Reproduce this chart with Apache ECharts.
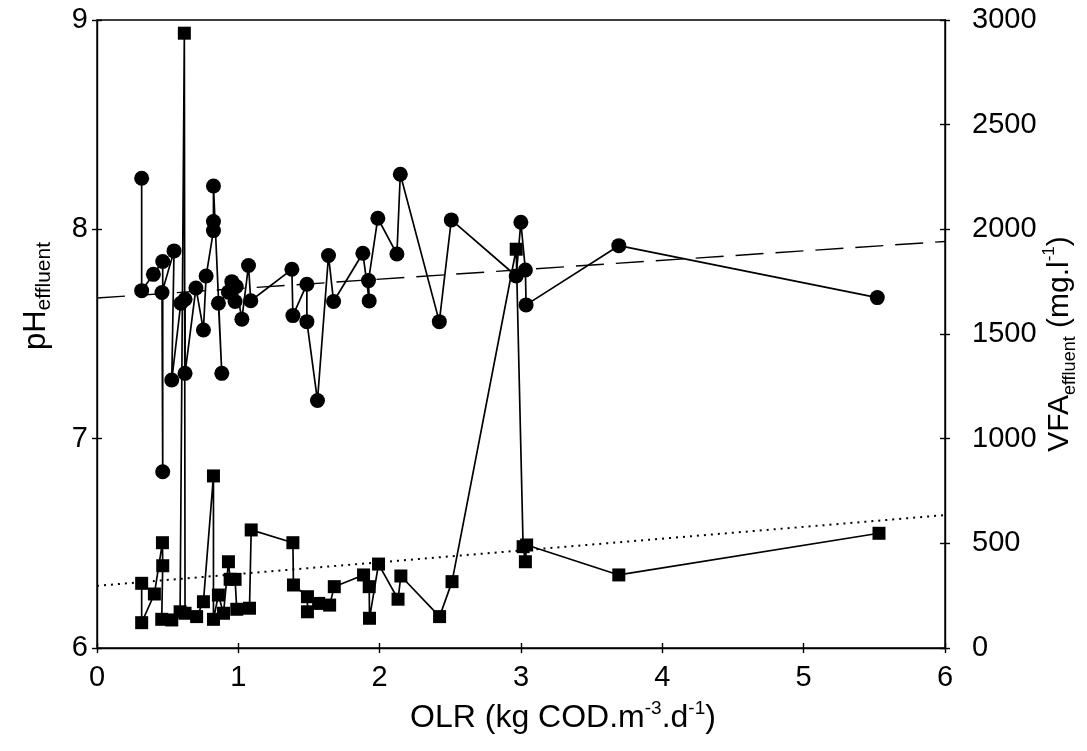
<!DOCTYPE html>
<html>
<head>
<meta charset="utf-8">
<script src="https://cdn.jsdelivr.net/npm/echarts@6/dist/echarts.min.js"></script>
<style>
  html, body { margin: 0; padding: 0; background: #ffffff; }
  #chart { width: 1087px; height: 751px; }
</style>
</head>
<body>
<div id="chart"></div>
<script>
// Effluent pH against organic loading rate (in sampling order)
const olrPh = [0.316, 0.316, 0.399, 0.465, 0.465, 0.46, 0.545, 0.529, 0.593, 0.623, 0.623, 0.70, 0.753, 0.772,
  0.824, 0.824, 0.824, 0.883, 0.859, 0.93, 0.954, 0.977, 0.985, 1.025, 1.072, 1.088,
  1.379, 1.386, 1.485, 1.485, 1.56, 1.638, 1.674, 1.881, 1.926, 1.921, 1.987, 2.122, 2.146,
  2.422, 2.507, 2.966, 2.999, 3.031, 3.036, 3.692, 5.521];
const phValues = [8.244, 7.707, 7.785, 7.846, 6.842, 7.698, 7.897, 7.28, 7.647, 7.666, 7.312, 7.72, 7.519, 7.777,
  7.994, 8.037, 8.207, 7.312, 7.647, 7.70, 7.75, 7.655, 7.727, 7.571, 7.827, 7.659,
  7.809, 7.588, 7.738, 7.559, 7.182, 7.875, 7.655, 7.886, 7.658, 7.755, 8.053, 7.882, 8.263,
  7.559, 8.045, 7.777, 8.034, 7.806, 7.639, 7.922, 7.674];

// Effluent VFA against organic loading rate (in sampling order)
const olrVfa = [0.316, 0.316, 0.406, 0.463, 0.465, 0.458, 0.529, 0.588, 0.618, 0.623, 0.705, 0.753,
  0.824, 0.824, 0.859, 0.895, 0.93, 0.942, 0.977, 0.989, 1.079, 1.091,
  1.386, 1.39, 1.489, 1.489, 1.568, 1.646, 1.679, 1.886, 1.926, 1.928, 1.992, 2.13, 2.15,
  2.424, 2.512, 2.966, 3.015, 3.031, 3.04, 3.692, 5.533];
const vfaValues = [309, 121, 258, 503, 393, 137, 134, 173, 2937, 166, 150, 221,
  822, 137, 253, 166, 412, 328, 328, 185, 190, 564,
  503, 301, 245, 173, 213, 205, 293, 349, 293, 142, 401, 233, 344,
  150, 317, 1905, 484, 412, 492, 349, 548];

// Linear trend lines (end points at OLR 0 and 6)
const fitOlr = [0, 6];
const phFit = [7.672, 7.942];
const vfaFit = [297, 635];

// Axis ranges: [min, max, interval]
const olrAxis = [0, 6, 1];
const phAxis = [6, 9, 1];
const vfaAxis = [0, 3000, 500];

const FONT = 'Liberation Sans, Arial, sans-serif';
const INK = '#000000';

const pair = (xs, ys) => xs.map((x, i) => [x, ys[i]]);

const chart = echarts.init(document.getElementById('chart'), null, { renderer: 'canvas' });

const baseLabel = { color: INK, fontFamily: FONT, fontSize: 29, formatter: v => String(v) };
const plotBox = { left: 97, right: 142, top: 20, bottom: 103, outerBoundsMode: 'none', containLabel: false };

function valueAxis(range, extra) {
  return Object.assign({
    type: 'value',
    gridIndex: 0,
    min: range[0],
    max: range[1],
    interval: range[2],
    nameMoveOverlap: false,
    splitLine: { show: false },
    minorTick: { show: false },
    axisLine: { show: true, onZero: false, lineStyle: { color: INK, width: 1.4 } },
    axisTick: { show: true, inside: false, length: 5, lineStyle: { color: INK, width: 1.4 } }
  }, extra);
}

// A second, overlaid grid carries copies of the axes that draw only the
// inward half of each cross-shaped tick
function innerTicks(range, position) {
  return valueAxis(range, {
    gridIndex: 1,
    position: position,
    axisLine: { show: false },
    axisLabel: { show: false },
    axisTick: { show: true, inside: true, length: 5, lineStyle: { color: INK, width: 1.4 } }
  });
}

const option = {
  animation: false,
  backgroundColor: '#ffffff',
  grid: [
    Object.assign({ show: true, borderColor: INK, borderWidth: 1.4, backgroundColor: 'transparent' }, plotBox),
    Object.assign({ show: false }, plotBox)
  ],
  xAxis: [
    valueAxis(olrAxis, {
      position: 'bottom',
      axisLabel: Object.assign({ margin: 15 }, baseLabel),
      name: '{t|OLR (kg COD.m}{s|-3}{t|.d}{s|-1}{t|)}',
      nameLocation: 'middle',
      nameGap: 51,
      nameTextStyle: {
        padding: [0, 0, 0, 84],
        rich: {
          t: { fontFamily: FONT, fontSize: 32, color: INK, lineHeight: 38 },
          s: { fontFamily: FONT, fontSize: 19, color: INK, verticalAlign: 'top', lineHeight: 38 }
        }
      }
    }),
    innerTicks(olrAxis, 'bottom')
  ],
  yAxis: [
    valueAxis(phAxis, {
      position: 'left',
      axisLabel: Object.assign({ margin: 9 }, baseLabel),
      name: '{t|pH}{s|effluent}',
      nameLocation: 'middle',
      nameRotate: 90,
      nameGap: 42,
      nameTextStyle: {
        padding: [0, 0, 0, 76],
        rich: {
          t: { fontFamily: FONT, fontSize: 31, color: INK, lineHeight: 38 },
          s: { fontFamily: FONT, fontSize: 21, color: INK, verticalAlign: 'bottom', lineHeight: 38 }
        }
      }
    }),
    valueAxis(vfaAxis, {
      position: 'right',
      axisLabel: Object.assign({ margin: 27 }, baseLabel),
      name: '{t|VFA}{s|effluent}{t| (mg.l}{p|-1}{t|)}',
      nameLocation: 'middle',
      nameRotate: 90,
      nameGap: 96,
      nameTextStyle: {
        padding: [0, 20, 0, 0],
        rich: {
          t: { fontFamily: FONT, fontSize: 30, color: INK, lineHeight: 38 },
          s: { fontFamily: FONT, fontSize: 18, color: INK, verticalAlign: 'bottom', lineHeight: 38 },
          p: { fontFamily: FONT, fontSize: 17, color: INK, verticalAlign: 'top', lineHeight: 38 }
        }
      }
    }),
    innerTicks(phAxis, 'left'),
    innerTicks(vfaAxis, 'right')
  ],
  series: [
    {
      name: 'pH trend',
      type: 'line',
      xAxisIndex: 0, yAxisIndex: 0,
      data: pair(fitOlr, phFit),
      showSymbol: false, symbol: 'none',
      lineStyle: { color: INK, width: 1.4, type: [28, 12] },
      z: 1
    },
    {
      name: 'VFA trend',
      type: 'line',
      xAxisIndex: 0, yAxisIndex: 1,
      data: pair(fitOlr, vfaFit),
      showSymbol: false, symbol: 'none',
      lineStyle: { color: INK, width: 2, type: [2, 5] },
      z: 1
    },
    {
      name: 'pH',
      type: 'line',
      xAxisIndex: 0, yAxisIndex: 0,
      data: pair(olrPh, phValues),
      symbol: 'circle',
      symbolSize: 15,
      itemStyle: { color: INK },
      lineStyle: { color: INK, width: 1.7 },
      z: 3
    },
    {
      name: 'VFA',
      type: 'line',
      xAxisIndex: 0, yAxisIndex: 1,
      data: pair(olrVfa, vfaValues),
      symbol: 'rect',
      symbolSize: 13,
      itemStyle: { color: INK },
      lineStyle: { color: INK, width: 1.7 },
      z: 3
    }
  ]
};

chart.setOption(option);
</script>
</body>
</html>
